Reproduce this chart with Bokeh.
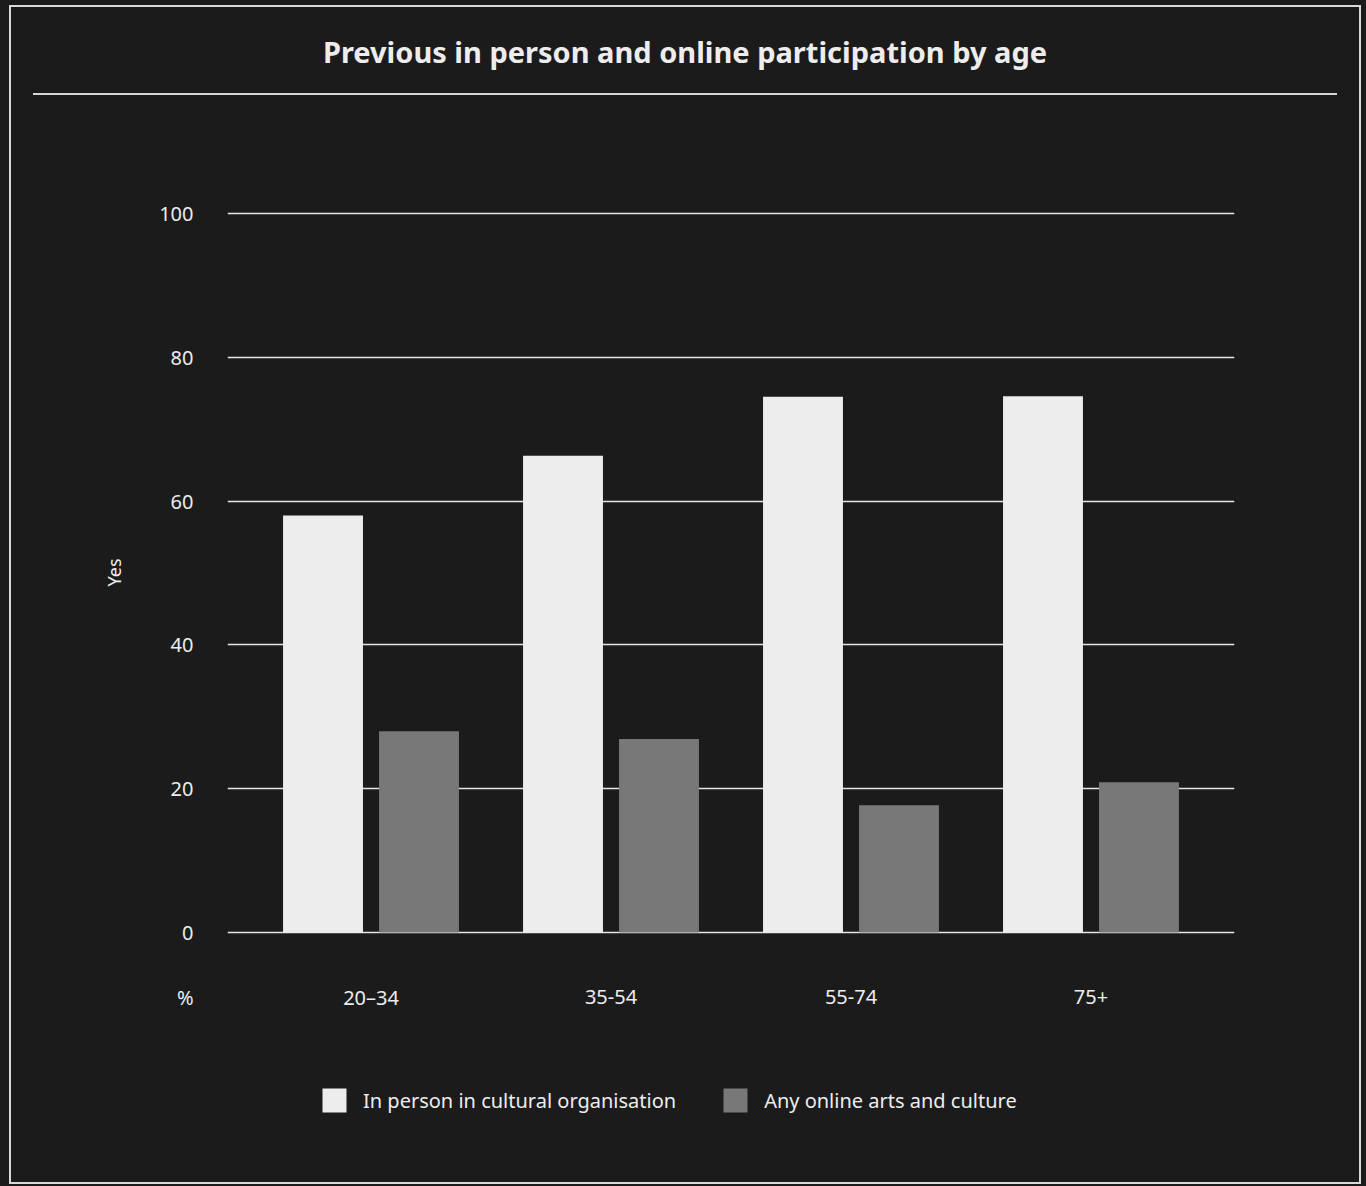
from bokeh.plotting import figure
from bokeh.models import (FactorRange, Range1d, FixedTicker, Div, Legend, LegendItem,
                          ColumnDataSource, Grid)
from bokeh.layouts import column
from bokeh.core.properties import value
from bokeh.transform import dodge
from bokeh.embed import file_html
from bokeh.resources import INLINE

# ---- data ----
ages = ["20–34", "35-54", "55-74", "75+"]
in_person = [58.0, 66.3, 74.5, 74.6]
online = [28.0, 26.9, 17.7, 20.9]
y_ticks = [0, 20, 40, 60, 80, 100]
unit_label = "%"
series_names = ["In person in cultural organisation", "Any online arts and culture"]
title_text = "Previous in person and online participation by age"
y_title = "Yes"

BG = "#1b1b1b"
FG = "#ededed"
C1 = "#ededed"
C2 = "#787878"
FONT = "Noto Sans"

# layout geometry (pixels)
PX_PER_UNIT = 7.19
TOP_GAP = 37       # figure top -> frame top
FRAME_W = 1007
FRAME_H = 880
UNIT_ROW = -9      # data y of the "%" / category label row

y_end = 100 + (213 - 132) / PX_PER_UNIT
y_start = y_end - FRAME_H / PX_PER_UNIT

src = ColumnDataSource(dict(age=ages, a=in_person, b=online))

p = figure(frame_width=FRAME_W, frame_height=FRAME_H, output_backend="svg",
           toolbar_location=None,
           x_range=FactorRange(*ages, range_padding=0.049, range_padding_units="percent"),
           y_range=Range1d(y_start, y_end), x_axis_location=None,
           min_border_left=216, min_border_right=125,
           min_border_top=TOP_GAP, min_border_bottom=20,
           background_fill_color=BG, border_fill_color=BG, outline_line_color=None)

p.vbar(x=dodge("age", -0.2, range=p.x_range), top="a", width=0.333, source=src,
       fill_color=C1, line_color=None)
p.vbar(x=dodge("age", 0.2, range=p.x_range), top="b", width=0.333, source=src,
       fill_color=C2, line_color=None)

# category labels, drawn in the "%" row
p.text(x=ages, y=[UNIT_ROW] * len(ages), text=ages, text_align="center",
       text_baseline="middle", text_font=value(FONT), text_font_size="20px",
       text_color=FG)

# y axis
p.yaxis.ticker = FixedTicker(ticks=[UNIT_ROW] + y_ticks)
p.yaxis.major_label_overrides = {UNIT_ROW: unit_label}
p.yaxis.axis_line_color = None
p.yaxis.major_tick_line_color = None
p.yaxis.minor_tick_line_color = None
p.yaxis.major_label_text_font = FONT
p.yaxis.major_label_text_font_size = "20px"
p.yaxis.major_label_text_color = FG
p.yaxis.major_label_standoff = 28
p.yaxis.axis_label = y_title
p.yaxis.axis_label_text_font = FONT
p.yaxis.axis_label_text_font_size = "18px"
p.yaxis.axis_label_text_font_style = "normal"
p.yaxis.axis_label_text_color = FG
p.yaxis.axis_label_standoff = 30

for g in p.select(type=Grid):
    if g.dimension == 0:
        g.visible = False
    else:
        g.ticker = FixedTicker(ticks=y_ticks)
        g.grid_line_color = "#e6e6e6"
        g.grid_line_width = 1.5

# ---- legend strip (own small figure; swatch proxies lie outside its view) ----
LEG_H = 150
pl = figure(width=1348, height=LEG_H, output_backend="svg", toolbar_location=None,
            x_range=Range1d(0, 1), y_range=Range1d(0, 1),
            x_axis_location=None, y_axis_location=None,
            min_border=0, background_fill_color=BG, border_fill_color=BG,
            outline_line_color=None)
for g in pl.select(type=Grid):
    g.visible = False
s1 = pl.vbar(x=[-5], top=[-5], bottom=-5, width=0.1, fill_color=C1, line_color=None)
s2 = pl.vbar(x=[-5], top=[-5], bottom=-5, width=0.1, fill_color=C2, line_color=None)
legend = Legend(items=[LegendItem(label=series_names[0], renderers=[s1]),
                       LegendItem(label=series_names[1], renderers=[s2])],
                orientation="horizontal", location=(92, 67),
                background_fill_alpha=0, border_line_color=None,
                label_text_font=FONT, label_text_font_size="20px", label_text_color=FG,
                glyph_width=30, glyph_height=30, label_standoff=14, spacing=44,
                padding=0, margin=0)
pl.add_layout(legend, "center")

title_div = Div(
    text=(f'<div style="width:1304px;padding-top:27px;text-align:center;font-family:\'{FONT}\';'
          f'font-size:29px;font-weight:bold;color:{FG};line-height:36px;">{title_text}</div>'),
    width=1304, height=86, margin=(0, 0, 0, 22), styles={"text-align": "center"})
sep_div = Div(text="", width=1304, height=2, margin=(0, 0, 0, 22),
              styles={"background-color": "#d6d6d6"})

layout = column(title_div, sep_div, p, pl, margin=(5, 0, 0, 9), spacing=0,
                styles={"border": "2px solid #d9d9d9", "background-color": BG})

template = "{% block postamble %}<style>body{background:#1b1b1b;}</style>{% endblock %}"
open("out.html", "w").write(file_html(layout, INLINE, template=template))
